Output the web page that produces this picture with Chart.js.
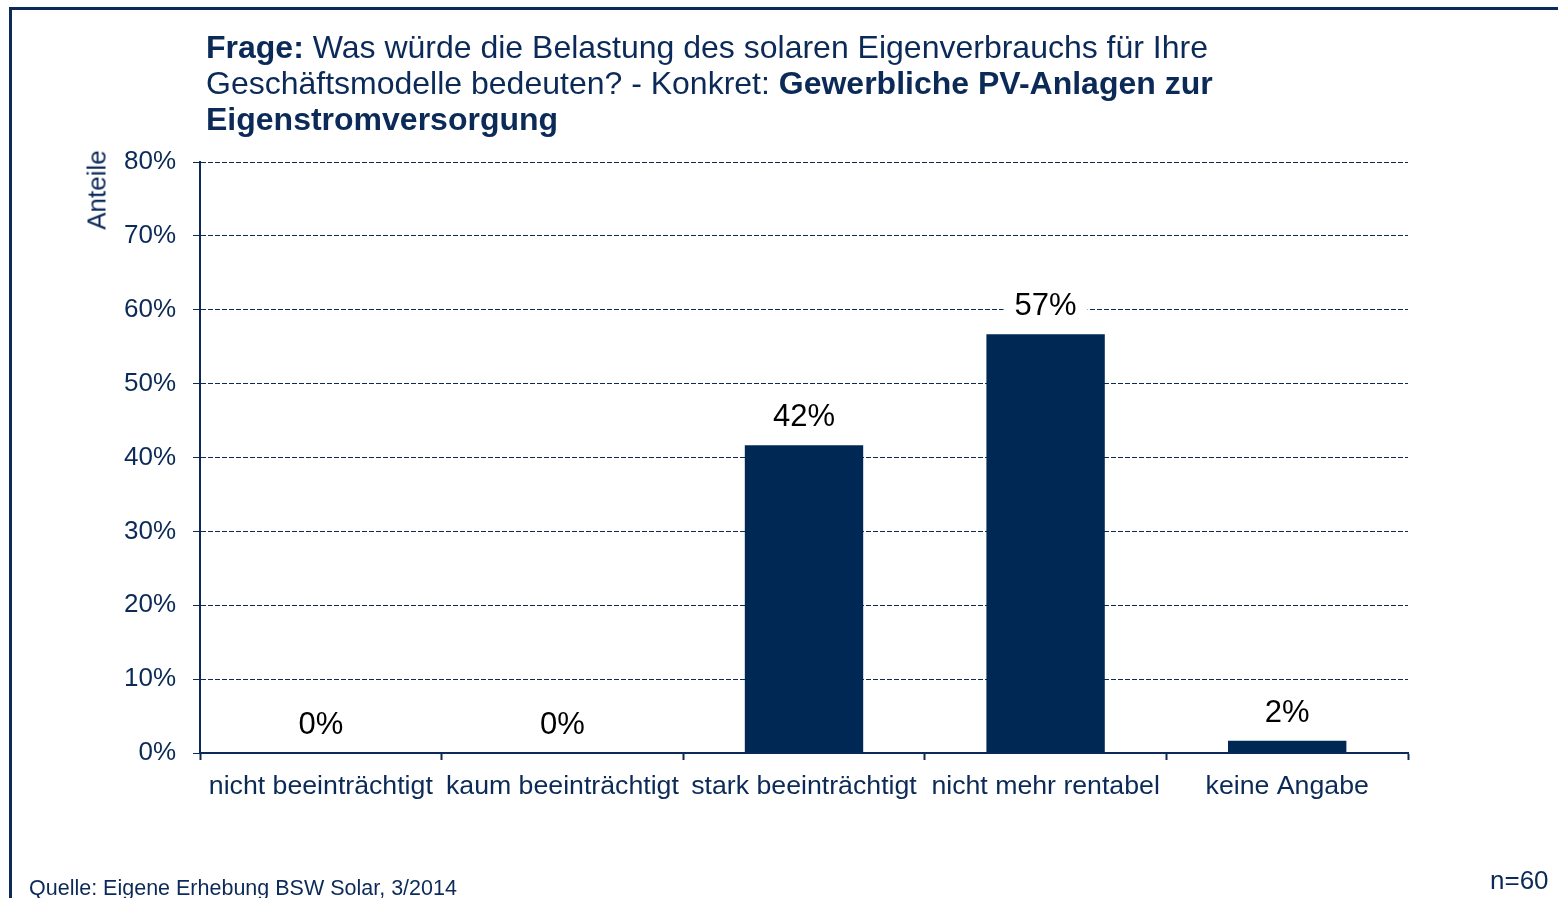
<!DOCTYPE html>
<html lang="de">
<head>
<meta charset="utf-8">
<title>Belastung des solaren Eigenverbrauchs</title>
<script src="https://cdn.jsdelivr.net/npm/chart.js@4/dist/chart.umd.min.js"></script>
<style>
    html, body { margin: 0; padding: 0; background: #fff; }
    body { width: 1558px; height: 898px; position: relative; overflow: hidden;
           font-family: "Liberation Sans", Arial, sans-serif; color: #0b2a57; }
    #frame { position: absolute; left: 9px; top: 7px; width: 1560px; height: 900px;
             border-top: 3px solid #0b2a57; border-left: 3px solid #0b2a57; }
    #title { position: absolute; left: 206px; top: 29px; font-size: 32px; line-height: 36px; white-space: nowrap; }
    #yTitle { position: absolute; left: 97px; top: 190px; font-size: 26px;
              transform: translate(-50%, -50%) rotate(-90deg); white-space: nowrap; }
    #source { position: absolute; left: 29px; top: 876px; font-size: 21.5px; white-space: nowrap; }
    #nCount { position: absolute; left: 1490px; top: 865px; font-size: 26px; white-space: nowrap; }
    #wrap { position: absolute; left: 0; top: 0; width: 1558px; height: 898px; }
</style>
</head>
<body>
<div id="frame"></div>
<div id="wrap"><canvas id="chart" width="1558" height="898"></canvas></div>
<div id="title"><b>Frage:</b> Was würde die Belastung des solaren Eigenverbrauchs für Ihre<br>Geschäftsmodelle bedeuten? - Konkret: <b>Gewerbliche PV-Anlagen zur</b><br><b>Eigenstromversorgung</b></div>
<div id="yTitle">Anteile</div>
<div id="source">Quelle: Eigene Erhebung BSW Solar, 3/2014</div>
<div id="nCount">n=60</div>
<script>
// Antworten (n=60), Anteile in Prozent
const categories = ['nicht beeinträchtigt', 'kaum beeinträchtigt', 'stark beeinträchtigt', 'nicht mehr rentabel', 'keine Angabe'];
const shares = [0, 0, 41.67, 56.67, 1.67];
const yTicks = [0, 10, 20, 30, 40, 50, 60, 70, 80];

const NAVY = '#0b2a57';
const BAR = '#002855';
const FONT = '"Liberation Sans", Arial, sans-serif';

// Prozentwerte über den Balken, mit weißem Hintergrund
const barLabels = {
    id: 'barLabels',
    afterDatasetsDraw(chart) {
        const ctx = chart.ctx;
        const meta = chart.getDatasetMeta(0);
        ctx.save();
        ctx.font = '31px ' + FONT;
        ctx.textAlign = 'center';
        ctx.textBaseline = 'alphabetic';
        meta.data.forEach((bar, i) => {
            const text = Math.round(shares[i]) + '%';
            const w = ctx.measureText(text).width;
            const base = bar.y - 19;
            ctx.fillStyle = '#fff';
            ctx.fillRect(bar.x - w / 2 - 11, base - 28, w + 22, 34);
            ctx.fillStyle = '#000';
            ctx.fillText(text, bar.x, base);
        });
        ctx.restore();
    }
};

new Chart(document.getElementById('chart'), {
    type: 'bar',
    data: {
        labels: categories,
        datasets: [{
            data: shares,
            backgroundColor: BAR,
            borderWidth: 0,
            barPercentage: 0.49,
            categoryPercentage: 1
        }]
    },
    options: {
        responsive: false,
        animation: false,
        devicePixelRatio: 1,
        layout: { padding: { left: 0, right: 150, top: 162, bottom: 45 } },
        plugins: {
            legend: { display: false },
            tooltip: { enabled: false }
        },
        scales: {
            x: {
                offset: true,
                afterFit: s => { s.height = 100; },
                grid: {
                    offset: true,
                    drawOnChartArea: false,
                    drawTicks: true,
                    tickLength: 7,
                    tickColor: NAVY,
                    tickWidth: 2
                },
                border: { display: true, color: NAVY, width: 2 },
                ticks: {
                    color: NAVY,
                    font: { family: FONT, size: 26.7 },
                    padding: 11,
                    maxRotation: 0,
                    autoSkip: false
                }
            },
            y: {
                min: 0,
                max: 80,
                afterFit: s => { s.width = 200; },
                afterBuildTicks: s => { s.ticks = yTicks.map(v => ({ value: v })); },
                grid: {
                    color: NAVY,
                    lineWidth: 1,
                    tickLength: 7,
                    tickColor: NAVY,
                    tickWidth: 1
                },
                border: { display: true, color: NAVY, width: 2, dash: [5, 2] },
                ticks: {
                    color: NAVY,
                    font: { family: FONT, size: 26 },
                    padding: 17,
                    callback: v => v + '%'
                }
            }
        }
    },
    plugins: [barLabels]
});
</script>
</body>
</html>
